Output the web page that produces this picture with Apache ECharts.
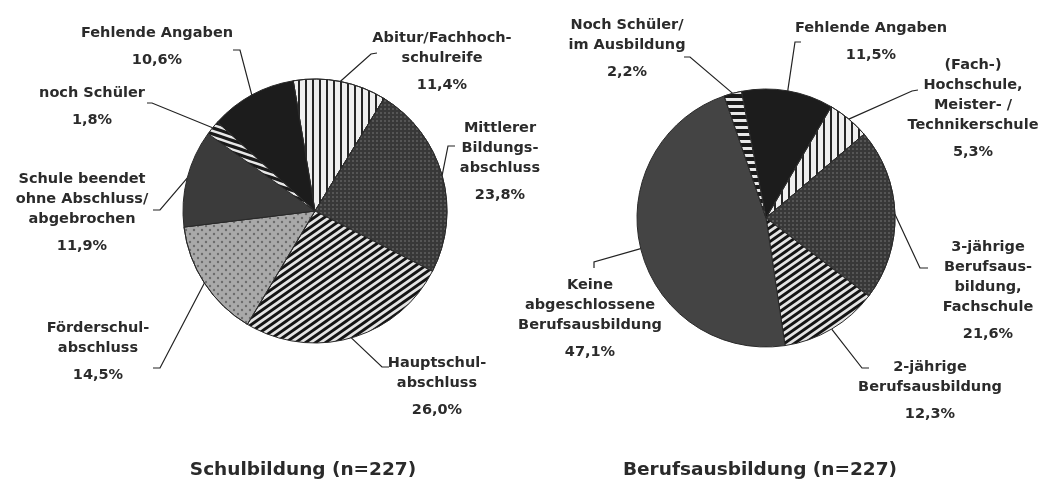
<!DOCTYPE html>
<html>
<head>
<meta charset="utf-8">
<script src="https://cdn.jsdelivr.net/npm/echarts@6/dist/echarts.min.js"></script>
<style>
  html, body { margin: 0; padding: 0; background: #fff; }
  #chart { width: 1055px; height: 480px; }
</style>
</head>
<body>
<div id="chart"></div>
<script>
// Schulbildung (n=227)
const schulNames = ['Abitur/Fachhoch-\nschulreife', 'Mittlerer\nBildungs-\nabschluss', 'Hauptschul-\nabschluss',
  'Förderschul-\nabschluss', 'Schule beendet\nohne Abschluss/\nabgebrochen', 'noch Schüler', 'Fehlende Angaben'];
const schulValues = [11.4, 23.8, 26.0, 14.5, 11.9, 1.8, 10.6];

// Berufsausbildung (n=227)
const berufNames = ['Fehlende Angaben', '(Fach-)\nHochschule,\nMeister- /\nTechnikerschule',
  '3-jährige\nBerufsaus-\nbildung,\nFachschule', '2-jährige\nBerufsausbildung',
  'Keine\nabgeschlossene\nBerufsausbildung', 'Noch Schüler/\nim Ausbildung'];
const berufValues = [11.5, 5.3, 21.6, 12.3, 47.1, 2.2];

const titles = ['Schulbildung (n=227)', 'Berufsausbildung (n=227)'];

// label placement: [centre x, first line y], leader bend and end points
const schulLabelPos = [[442, 38], [500, 128], [437, 363], [98, 328], [82, 179], [92, 93], [157, 33]];
const schulBend = [[371, 54], [448, 146], [382, 367], [160, 368], [160, 210], [152, 103], [240, 50]];
const schulEnd = [[377, 53], [455, 146], [389, 367], [153, 368], [153, 210], [147, 103], [233, 50]];

const berufLabelPos = [[871, 28], [973, 65], [988, 247], [930, 367], [590, 285], [627, 25]];
const berufBend = [[795, 42], [912, 91], [920, 268], [862, 368], [594, 262], [690, 57]];
const berufEnd = [[801, 42], [918, 90], [928, 268], [869, 368], [594, 268], [684, 57]];

// diagonal hatch tile: lines through the tile diagonal, repeated seamlessly
function stripeTile(w, h, rising, bg, fg, lw) {
  const c = document.createElement('canvas');
  c.width = w;
  c.height = h;
  const g = c.getContext('2d');
  g.fillStyle = bg;
  g.fillRect(0, 0, w, h);
  g.strokeStyle = fg;
  g.lineWidth = lw;
  for (let k = -1; k <= 1; k++) {
    g.beginPath();
    if (rising) {
      g.moveTo(k * w - w, 2 * h);
      g.lineTo(k * w + 2 * w, -h);
    } else {
      g.moveTo(k * w - w, -h);
      g.lineTo(k * w + 2 * w, 2 * h);
    }
    g.stroke();
  }
  return c;
}

// fills
const solidBlack = { color: '#1c1c1c' };
const solidDark = { color: '#3b3b3b' };
const solidKeine = { color: '#444444' };
const vStripes = {
  color: '#efefef',
  decal: { symbol: 'rect', color: '#262626', dashArrayX: [1, 0], dashArrayY: [2.6, 3.4], rotation: Math.PI / 2 }
};
const diagStripes = {
  color: { image: stripeTile(10, 7, true, '#141414', '#e4e4e4', 2.8), repeat: 'repeat' }
};
const darkDots = {
  color: '#383838',
  decal: { symbol: 'circle', color: '#7c7c7c', symbolSize: 0.8, dashArrayX: [2, 2], dashArrayY: [2, 2] }
};
const lightDots = {
  color: '#a9a9a9',
  decal: { symbol: 'circle', color: '#6c6c6c', symbolSize: 0.6,
    dashArrayX: [[3.5, 3.5], [0, 3.5, 3.5, 0]], dashArrayY: [3.5, 0] }
};
const smallStripes = {
  color: { image: stripeTile(18, 6, false, '#1a1a1a', '#e8e8e8', 2.6), repeat: 'repeat' }
};
const hStripes = {
  color: '#1a1a1a',
  decal: { symbol: 'rect', color: '#e8e8e8', dashArrayX: [1, 0], dashArrayY: [2.5, 3.5], rotation: 0 }
};

const schulFills = [vStripes, darkDots, diagStripes, lightDots, solidDark, smallStripes, solidBlack];
const berufFills = [solidBlack, vStripes, darkDots, diagStripes, solidKeine, hStripes];

function pct(v) {
  return v.toFixed(1).replace('.', ',') + '%';
}

function buildData(names, values, fills) {
  return names.map((n, i) => ({
    name: n,
    value: values[i],
    itemStyle: Object.assign({ borderColor: '#2a2a2a', borderWidth: 1 }, fills[i])
  }));
}

function layoutFn(pos, bend, end) {
  return function (params) {
    const i = params.dataIndex;
    const start = params.labelLinePoints ? params.labelLinePoints[0] : bend[i];
    return {
      x: pos[i][0],
      y: pos[i][1] - 10,
      align: 'center',
      verticalAlign: 'top',
      labelLinePoints: [start, bend[i], end[i]]
    };
  };
}

const labelStyle = {
  show: true,
  position: 'outside',
  formatter: (p) => '{n|' + p.name.split('\n').join('}\n{n|') + '}\n{p|' + pct(p.value) + '}',
  rich: {
    n: { fontFamily: 'DejaVu Sans', fontWeight: 'bold', fontSize: 14.5, lineHeight: 20, color: '#2b2b2b', align: 'center' },
    p: { fontFamily: 'DejaVu Sans', fontWeight: 'bold', fontSize: 14.5, lineHeight: 34, color: '#2b2b2b', align: 'center' }
  }
};

const chart = echarts.init(document.getElementById('chart'));
chart.setOption({
  animation: false,
  backgroundColor: '#ffffff',
  graphic: [
    { type: 'text', x: 303, y: 470,
      style: { text: titles[0], font: 'bold 18.5px "DejaVu Sans"', fill: '#2a2a2a',
        textAlign: 'center', textVerticalAlign: 'middle', align: 'center', verticalAlign: 'middle' } },
    { type: 'text', x: 760, y: 470,
      style: { text: titles[1], font: 'bold 18.5px "DejaVu Sans"', fill: '#2a2a2a',
        textAlign: 'center', textVerticalAlign: 'middle', align: 'center', verticalAlign: 'middle' } }
  ],
  series: [
    {
      name: titles[0],
      type: 'pie',
      center: [315, 211],
      radius: 132,
      startAngle: 99.5,
      clockwise: true,
      avoidLabelOverlap: false,
      silent: true,
      data: buildData(schulNames, schulValues, schulFills),
      label: labelStyle,
      labelLine: { show: true, length: 10, length2: 10, lineStyle: { color: '#222', width: 1.2 } },
      labelLayout: layoutFn(schulLabelPos, schulBend, schulEnd)
    },
    {
      name: titles[1],
      type: 'pie',
      center: [766, 218],
      radius: 129,
      startAngle: 101,
      clockwise: true,
      avoidLabelOverlap: false,
      silent: true,
      data: buildData(berufNames, berufValues, berufFills),
      label: labelStyle,
      labelLine: { show: true, length: 10, length2: 10, lineStyle: { color: '#222', width: 1.2 } },
      labelLayout: layoutFn(berufLabelPos, berufBend, berufEnd)
    }
  ]
});
</script>
</body>
</html>
